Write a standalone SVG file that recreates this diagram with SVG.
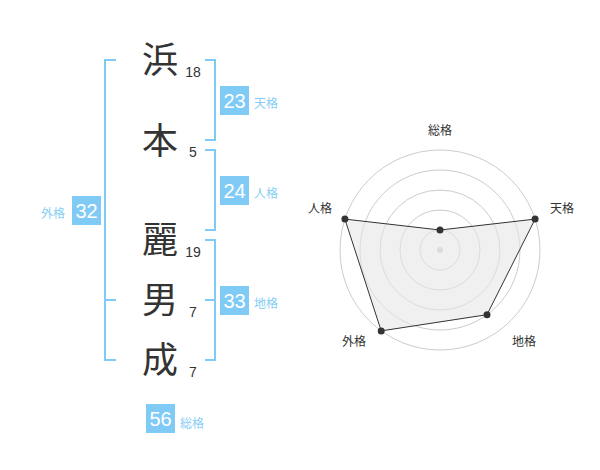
<svg xmlns="http://www.w3.org/2000/svg" width="600" height="470" viewBox="0 0 600 470">
<style>
.kanji{font-family:"Noto Sans CJK JP","Noto Sans CJK SC",sans-serif;font-size:36px;fill:#333;text-anchor:middle}
.num{font-family:"Liberation Sans",Arial,sans-serif;font-size:14px;fill:#333;text-anchor:middle}
.br{fill:none;stroke:#80cbf6;stroke-width:2}
.box{fill:#80cbf6}
.bnum{font-family:"Liberation Sans",Arial,sans-serif;font-size:20px;fill:#fff;text-anchor:middle}
.lab{font-family:"Noto Sans CJK JP","Noto Sans CJK SC",sans-serif;font-size:12px;fill:#86cdf5}
.ring{fill:none;stroke:#cccccc;stroke-width:1}
.rlab{font-family:"Noto Sans CJK JP","Noto Sans CJK SC",sans-serif;font-size:12px;fill:#333;text-anchor:middle}
.pt{fill:#333}
</style>
<rect width="600" height="470" fill="#fff"/>
<g id="connectors">
<path class="br" d="M116,60H105V360H116M105,300H116"/>
<path class="br" d="M205,60H215V140H205"/>
<path class="br" d="M205,150H215V230H205"/>
<path class="br" d="M205,240H215V360H205M205,300H215"/>
</g>
<g id="char-hama"><text class="kanji" x="160" y="73">浜</text><text class="num" x="193" y="77">18</text></g>
<g id="char-moto"><text class="kanji" x="160" y="154">本</text><text class="num" x="193" y="157">5</text></g>
<g id="char-rei"><text class="kanji" x="160" y="253">麗</text><text class="num" x="193" y="257">19</text></g>
<g id="char-o"><text class="kanji" x="160" y="313">男</text><text class="num" x="193" y="317">7</text></g>
<g id="char-sei"><text class="kanji" x="160" y="373">成</text><text class="num" x="193" y="377">7</text></g>
<g id="tenkaku"><rect class="box" x="220" y="86" width="29" height="29"/><text class="bnum" x="234.5" y="107.5">23</text><text class="lab" x="254" y="108">天格</text></g>
<g id="jinkaku"><rect class="box" x="220" y="176" width="29" height="29"/><text class="bnum" x="234.5" y="197.5">24</text><text class="lab" x="254" y="198">人格</text></g>
<g id="chikaku"><rect class="box" x="220" y="286" width="29" height="29"/><text class="bnum" x="234.5" y="307.5">33</text><text class="lab" x="254" y="308">地格</text></g>
<g id="gaikaku"><rect class="box" x="72" y="196" width="29" height="29"/><text class="bnum" x="86.5" y="217.5">32</text><text class="lab" x="41" y="218">外格</text></g>
<g id="soukaku"><rect class="box" x="146" y="404" width="29" height="29"/><text class="bnum" x="160.5" y="425.5">56</text><text class="lab" x="180" y="428">総格</text></g>
<g id="radar">
<circle class="ring" cx="440" cy="250" r="20"/>
<circle class="ring" cx="440" cy="250" r="40"/>
<circle class="ring" cx="440" cy="250" r="60"/>
<circle class="ring" cx="440" cy="250" r="80"/>
<circle class="ring" cx="440" cy="250" r="100"/>
<circle cx="440" cy="250" r="3" fill="#cccccc"/>
<polygon points="440,230 535.1,219.1 487,314.7 381.2,330.9 344.9,219.1" fill="#e6e6e6" fill-opacity="0.6" stroke="#333" stroke-width="1"/>
<circle class="pt" cx="440" cy="230" r="3.5"/>
<circle class="pt" cx="535.1" cy="219.1" r="3.5"/>
<circle class="pt" cx="487" cy="314.7" r="3.5"/>
<circle class="pt" cx="381.2" cy="330.9" r="3.5"/>
<circle class="pt" cx="344.9" cy="219.1" r="3.5"/>
<text class="rlab" x="440" y="135">総格</text>
<text class="rlab" x="562" y="213">天格</text>
<text class="rlab" x="320" y="213">人格</text>
<text class="rlab" x="354" y="346">外格</text>
<text class="rlab" x="524" y="346">地格</text>
</g>
</svg>
